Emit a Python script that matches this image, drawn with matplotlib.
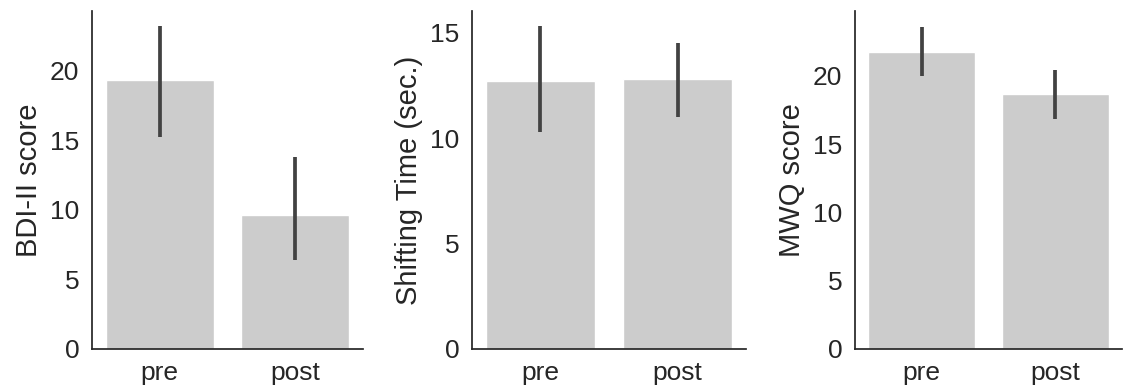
import numpy as np
import matplotlib
matplotlib.use("Agg")
import matplotlib.pyplot as plt
import seaborn as sns

sns.set_theme(style="white")
plt.rcParams['font.family'] = ['Liberation Sans', 'DejaVu Sans']

conditions = ["pre", "post"]

bdi_mean = [19.35, 9.6]
bdi_ci_low = [15.25, 6.4]
bdi_ci_high = [23.2, 13.8]

shift_mean = [12.72, 12.81]
shift_ci_low = [10.28, 11.03]
shift_ci_high = [15.31, 14.54]

mwq_mean = [21.78, 18.66]
mwq_ci_low = [20.0, 16.85]
mwq_ci_high = [23.6, 20.44]

panels = [
    ("BDI-II score", bdi_mean, bdi_ci_low, bdi_ci_high, 24.3, [0, 5, 10, 15, 20]),
    ("Shifting Time (sec.)", shift_mean, shift_ci_low, shift_ci_high, 16.04, [0, 5, 10, 15]),
    ("MWQ score", mwq_mean, mwq_ci_low, mwq_ci_high, 24.76, [0, 5, 10, 15, 20]),
]

positions = [
    [0.0819, 0.1097, 0.2413, 0.8623],
    [0.4203, 0.1097, 0.2440, 0.8623],
    [0.7613, 0.1097, 0.2377, 0.8623],
]

fig = plt.figure(figsize=(11.23, 3.92), dpi=100)

for pos, (label, mean, lo, hi, top, ticks) in zip(positions, panels):
    ax = fig.add_axes(pos)
    x = np.arange(len(conditions))
    mean = np.array(mean)
    err = [mean - np.array(lo), np.array(hi) - mean]
    ax.bar(x, mean, width=0.8, color="#cccccc", yerr=err,
           error_kw=dict(ecolor="#424242", elinewidth=2.7, capsize=0))
    ax.set_xlim(-0.5, 1.5)
    ax.set_ylim(0, top)
    ax.set_yticks(ticks)
    ax.set_xticks(x)
    ax.set_xticklabels(conditions)
    ax.tick_params(labelsize=19, colors="#262626", length=0)
    ax.tick_params(axis="y", pad=9)
    ax.tick_params(axis="x", pad=9)
    ax.set_ylabel(label, fontsize=21, color="#262626", labelpad=5)
    for s in ["top", "right"]:
        ax.spines[s].set_visible(False)
    for s in ["left", "bottom"]:
        ax.spines[s].set_color("#262626")
        ax.spines[s].set_linewidth(1.25)

fig.savefig("out.png", dpi=100)
